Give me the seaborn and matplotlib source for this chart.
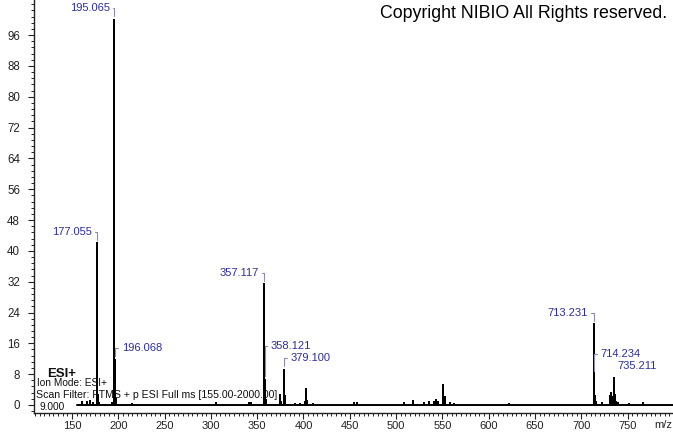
import numpy as np
import pandas as pd
import matplotlib.pyplot as plt
from matplotlib.ticker import MultipleLocator
import seaborn as sns

# ---- spectrum peaks (m/z, relative abundance) ----
peak_mz = [160.5, 166.0, 169.5, 173.0, 177.055, 178.06, 179.0, 193.0, 195.065, 196.068,
           197.07, 215.0, 305.5, 341.0, 343.0, 357.117, 358.121, 359.12, 375.1, 376.1,
           379.100, 380.1, 391.0, 396.0, 401.5, 402.6, 403.6, 410.0, 455.0, 458.0,
           508.0, 518.0, 530.5, 535.0, 540.6, 543.5, 545.0, 550.2, 552.2, 553.1,
           558.0, 562.0, 622.0, 713.231, 714.234, 715.24, 716.2, 722.0, 731.2, 732.2,
           733.2, 735.211, 736.2, 737.2, 740.0, 752.0, 767.0]
peak_int = [0.9, 0.7, 1.1, 0.5, 42.0, 2.6, 0.6, 0.5, 100.0, 11.7,
            1.6, 0.3, 0.6, 0.5, 0.5, 31.4, 6.5, 1.2, 2.6, 0.8,
            9.1, 2.3, 0.3, 0.3, 0.7, 4.2, 1.1, 0.3, 0.4, 0.4,
            0.4, 1.1, 0.5, 0.9, 0.9, 1.3, 0.9, 5.2, 2.0, 2.2,
            0.5, 0.3, 0.3, 21.0, 7.8, 2.3, 0.7, 0.4, 2.4, 3.0,
            2.0, 7.1, 2.6, 0.9, 0.6, 0.3, 0.4]

scan_range = [155.0, 800.0]

# labelled peaks
label_mz = [177.055, 195.065, 196.068, 357.117, 358.121, 379.100, 713.231, 714.234, 735.211]

ytick_vals = list(range(0, 97, 8))
xtick_vals = list(range(150, 751, 50))

# label placement in pixels (dx, dy) relative to peak top
label_offsets = {177.055: (-5, 11), 195.065: (-4, 12), 196.068: (7, 12),
                 357.117: (-5, 11), 358.121: (6, 34), 379.100: (6, 12),
                 713.231: (-6, 11), 714.234: (6, 21), 735.211: (3, 12)}

# ---- build stick trace ----
xs, ys = [scan_range[0]], [0.0]
for m, i in zip(peak_mz, peak_int):
    xs += [m, m, m]
    ys += [0.0, i, 0.0]
xs.append(scan_range[1])
ys.append(0.0)
df = pd.DataFrame({"mz": xs, "intensity": ys})

sns.set_style("ticks")
plt.rcParams['font.family'] = ['Liberation Sans', 'DejaVu Sans']

W, H = 673, 433
fig = plt.figure(figsize=(W / 100, H / 100), dpi=100)
ax = fig.add_axes([34 / W, 20 / H, 639 / W, 413 / H])

sns.lineplot(data=df, x="mz", y="intensity", sort=False, estimator=None,
             color="black", linewidth=1.4, ax=ax)

ax.set_xlim(109, 799)
ax.set_ylim(-2.08, 105.1)
ax.set_xticks(xtick_vals)
ax.set_yticks(ytick_vals)
ax.xaxis.set_minor_locator(MultipleLocator(5))
ax.yaxis.set_minor_locator(MultipleLocator(1.6))
ax.tick_params(which='major', length=4, width=0.8, labelsize=8.3, colors='#222222')
ax.tick_params(which='minor', length=2.2, width=0.7, colors='#222222')
ax.tick_params(axis='y', which='major', pad=6)
ax.tick_params(axis='x', which='major', pad=1.5, labelsize=8)
ax.set_xlabel("")
ax.set_ylabel("")
sns.despine(ax=ax)
for s in ['left', 'bottom']:
    ax.spines[s].set_linewidth(1.0)
    ax.spines[s].set_color('#222222')

# ---- peak labels with bracket leaders ----
lookup = dict(zip(peak_mz, peak_int))
for m in label_mz:
    dx, dy = label_offsets[m]
    ax.annotate(f"{m:.3f}", xy=(m, lookup[m]),
                xytext=(dx * 0.72, dy * 0.72), textcoords='offset points',
                ha='right' if dx < 0 else 'left', va='center',
                fontsize=8, color='#2e2e96',
                arrowprops=dict(arrowstyle='-', color='#8c8cb0', lw=0.8,
                                connectionstyle='angle,angleA=0,angleB=90,rad=0',
                                shrinkA=0, shrinkB=2.5))

# ---- header / info text ----
fig.text(667 / W, 1 - 14 / H, "Copyright NIBIO All Rights reserved.",
         ha='right', va='center', fontsize=12.8, color='black')
fig.text(47 / W, 1 - 374 / H, "ESI+", ha='left', va='center',
         fontsize=9.5, fontweight='bold', color='#111111')
fig.text(37 / W, 1 - 383.5 / H, "Ion Mode: ESI+", ha='left', va='center',
         fontsize=7.3, color='#111111')
fig.text(36 / W, 1 - 395 / H, "Scan Filter: FTMS + p ESI Full ms [155.00-2000.00]",
         ha='left', va='center', fontsize=7.6, color='#111111')
fig.text(39 / W, 1 - 406.5 / H, "9.000", ha='left', va='center',
         fontsize=7.3, color='#111111')
fig.text(663 / W, 1 - 425.5 / H, "m/z", ha='center', va='center',
         fontsize=8, color='#222222')

fig.savefig("out.png", dpi=100)
